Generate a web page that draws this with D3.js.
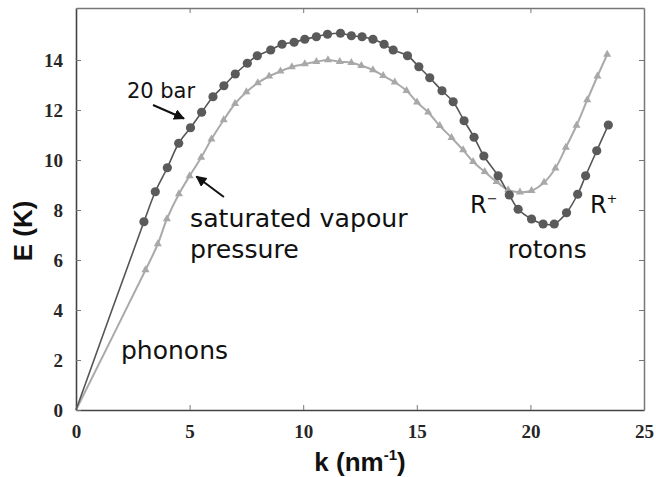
<!DOCTYPE html>
<html>
<head>
<meta charset="utf-8">
<script src="https://cdn.jsdelivr.net/npm/d3@7"></script>
<style>
	html, body { margin: 0; padding: 0; background: #fff; }
	svg { display: block; }
	.tick text { font-family: "Liberation Serif", serif; font-weight: bold; font-size: 19px; fill: #262626; }
	.lbl { font-family: "DejaVu Sans", sans-serif; fill: #111; }
	.axt { font-family: "Liberation Sans", Arial, sans-serif; font-weight: bold; font-size: 26px; fill: #111; }
</style>
</head>
<body>
<svg id="chart" width="656" height="477"></svg>
<script>
// 20 bar (circles)
const kBar = [2.99, 3.49, 4.02, 4.52, 5.04, 5.53, 6.03, 6.51, 7.01, 7.54, 7.98, 8.57, 9.07, 9.6, 10.07, 10.58, 11.07, 11.64, 12.12, 12.59, 13.07,
	13.56, 13.96, 14.59, 15.09, 15.57, 16.11, 16.6, 17.08, 17.52, 17.95, 18.58, 19.07, 19.46, 20.05, 20.56, 21.05, 21.59, 22.08, 22.43, 22.92, 23.43];
const eBar = [7.53, 8.73, 9.69, 10.67, 11.29, 11.91, 12.53, 12.97, 13.44, 13.87, 14.17, 14.4, 14.63, 14.71, 14.83, 14.93, 15.03, 15.07, 14.97, 14.93, 14.83,
	14.63, 14.4, 14.17, 13.73, 13.29, 12.77, 12.33, 11.57, 10.91, 10.16, 9.37, 8.6, 8.03, 7.64, 7.44, 7.44, 7.89, 8.63, 9.37, 10.37, 11.4];
// saturated vapour pressure (triangles)
const kSvp = [3.06, 3.6, 4.0, 4.53, 5.0, 5.51, 5.96, 6.5, 7.0, 7.5, 8.0, 8.5, 9.0, 9.5, 10.07, 10.58, 11.09, 11.61, 12.12, 12.56,
	13.07, 13.52, 14.03, 14.55, 15.01, 15.5, 16.01, 16.53, 17.04, 17.48, 17.99, 18.51, 19.02, 19.54, 20.05, 20.6, 21.1, 21.56, 22.03, 22.5, 22.95, 23.38];
const eSvp = [5.6, 6.64, 7.64, 8.64, 9.36, 10.1, 10.83, 11.6, 12.25, 12.72, 13.08, 13.35, 13.55, 13.72, 13.84, 13.93, 14.0, 13.93, 13.89, 13.77,
	13.6, 13.37, 13.11, 12.77, 12.31, 11.91, 11.37, 10.89, 10.4, 9.93, 9.53, 9.13, 8.8, 8.71, 8.77, 9.1, 9.67, 10.5, 11.38, 12.4, 13.35, 14.22];

const xTicks = [0, 5, 10, 15, 20, 25];
const yTicks = [0, 2, 4, 6, 8, 10, 12, 14];

!(function(){
	"use strict";

	let svg = d3.select('#chart'),
		x = d3.scaleLinear().domain([0, 25]).range([76, 644]),
		y = d3.scaleLinear().domain([0, 16.08]).range([410, 8]),
		line = d3.line().x(d => x(d[0])).y(d => y(d[1])).curve(d3.curveCatmullRom),
		bar = kBar.map((k, i) => [k, eBar[i]]),
		svp = kSvp.map((k, i) => [k, eSvp[i]]);

	// axes: ticks inward on all four sides
	let gx = svg.append('g').attr('transform', 'translate(0,410)')
		.call(d3.axisBottom(x).tickValues(xTicks).tickSize(-5).tickPadding(15).tickSizeOuter(0));
	let gy = svg.append('g').attr('transform', 'translate(76,0)')
		.call(d3.axisLeft(y).tickValues(yTicks).tickSize(-5).tickPadding(13).tickSizeOuter(0));
	let gt = svg.append('g').attr('transform', 'translate(0,8)')
		.call(d3.axisTop(x).tickValues(xTicks.slice(1, -1)).tickSize(-5).tickFormat('').tickSizeOuter(0));
	let gr = svg.append('g').attr('transform', 'translate(644,0)')
		.call(d3.axisRight(y).tickValues(yTicks.slice(1)).tickSize(-5).tickFormat('').tickSizeOuter(0));
	[gx, gy].forEach(g => g.select('.domain').attr('stroke', '#444').attr('stroke-width', 1.6));
	[gt, gr].forEach(g => g.select('.domain').attr('stroke', '#777').attr('stroke-width', 1.5));
	svg.selectAll('.tick line').attr('stroke', '#777').attr('stroke-width', 1);

	// curves, both start at the origin
	svg.append('path').datum([[0, 0]].concat(svp))
		.attr('d', line).attr('fill', 'none').attr('stroke', '#aaa').attr('stroke-width', 2);
	svg.append('path').datum([[0, 0]].concat(bar))
		.attr('d', line).attr('fill', 'none').attr('stroke', '#555').attr('stroke-width', 1.6);

	svg.append('g').selectAll('path').data(svp).enter().append('path')
		.attr('d', d3.symbol().type(d3.symbolTriangle).size(28))
		.attr('transform', d => 'translate(' + x(d[0]) + ',' + y(d[1]) + ')')
		.attr('fill', '#a8a8a8');
	svg.append('g').selectAll('circle').data(bar).enter().append('circle')
		.attr('cx', d => x(d[0])).attr('cy', d => y(d[1])).attr('r', 4.6)
		.attr('fill', '#5a5a5a');

	// annotations
	svg.append('defs').append('marker').attr('id', 'arr')
		.attr('viewBox', '0 0 10 10').attr('refX', 9).attr('refY', 5)
		.attr('markerWidth', 5.5).attr('markerHeight', 5.5).attr('orient', 'auto')
		.append('path').attr('d', 'M0,0L10,5L0,10z').attr('fill', '#111');
	let arrows = [[3.39, 12.2, 4.75, 11.66], [6.51, 8.52, 5.3, 9.34]];
	arrows.forEach(a => {
		svg.append('line')
			.attr('x1', x(a[0])).attr('y1', y(a[1])).attr('x2', x(a[2])).attr('y2', y(a[3]))
			.attr('stroke', '#111').attr('stroke-width', 2).attr('marker-end', 'url(#arr)');
	});

	let labels = [
		{t: '20 bar', k: 2.24, e: 12.48, s: 21},
		{t: 'saturated vapour', k: 5.02, e: 7.32, s: 25.2},
		{t: 'pressure', k: 5.02, e: 6.08, s: 25.2},
		{t: 'phonons', k: 1.98, e: 2.04, s: 25},
		{t: 'rotons', k: 19.0, e: 6.08, s: 25}
	];
	svg.append('g').selectAll('text').data(labels).enter().append('text')
		.attr('class', 'lbl').attr('x', d => x(d.k)).attr('y', d => y(d.e))
		.style('font-size', d => d.s + 'px').text(d => d.t);

	[['\u2212', 17.34], ['+', 22.62]].forEach(r => {
		let t = svg.append('text').attr('class', 'lbl').style('font-size', '24px')
			.attr('x', x(r[1])).attr('y', y(7.88));
		t.append('tspan').text('R');
		t.append('tspan').attr('dy', -10).style('font-size', '13px').text(r[0]);
	});

	// axis titles
	let xt = svg.append('text').attr('class', 'axt').attr('text-anchor', 'middle')
		.attr('x', 360).attr('y', 471);
	xt.append('tspan').text('k (nm');
	xt.append('tspan').attr('dy', -11).style('font-size', '15px').text('-1');
	xt.append('tspan').attr('dy', 11).text(')');

	svg.append('text').attr('class', 'axt').attr('text-anchor', 'middle')
		.attr('transform', 'translate(32,231) rotate(-90)').text('E (K)');
}());
</script>
</body>
</html>
